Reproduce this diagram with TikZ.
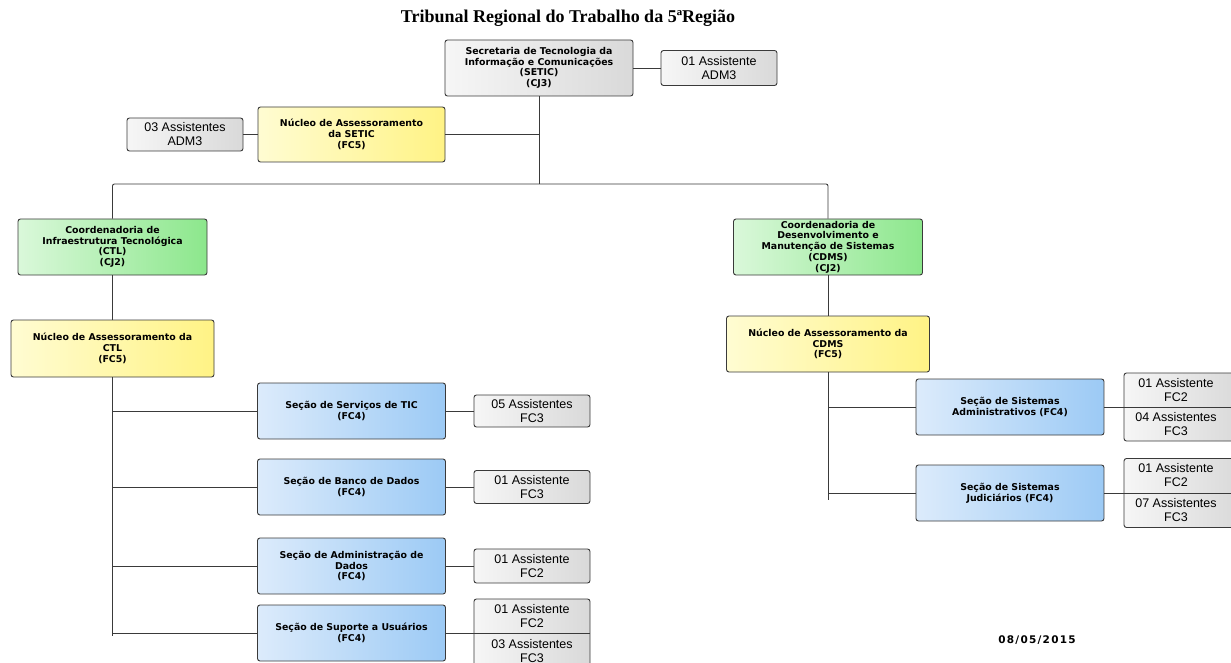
\documentclass[tikz,border=0pt]{standalone}
\usepackage{fontspec}
\setmainfont{Liberation Serif}
\newfontfamily\bxfont{DejaVu Sans}
\newfontfamily\asfont{Liberation Sans}
\newfontfamily\datefont[LetterSpace=12]{DejaVu Sans}
\definecolor{grayL}{HTML}{F6F6F6}
\definecolor{grayR}{HTML}{D9D9D9}
\definecolor{yelL}{HTML}{FFFCD2}
\definecolor{yelR}{HTML}{FFF385}
\definecolor{grnL}{HTML}{DAF8DA}
\definecolor{grnR}{HTML}{8CE78C}
\definecolor{bluL}{HTML}{DCEBFB}
\definecolor{bluR}{HTML}{9CCAF5}
\definecolor{edge}{HTML}{3A3A3A}
\tikzset{
  bx/.style={draw=edge, line width=0.9pt, rounded corners=2.5pt, align=center, inner sep=1pt,
    font=\bxfont\bfseries\fontsize{9.4}{10.7}\selectfont},
  grybox/.style={bx, left color=grayL, right color=grayR, minimum width=116pt,
    font=\asfont\fontsize{12.5}{14}\selectfont},
  yelbox/.style={bx, left color=yelL, right color=yelR},
  grnbox/.style={bx, left color=grnL, right color=grnR},
  blubox/.style={bx, left color=bluL, right color=bluR, minimum width=188pt, minimum height=56pt},
  astxt/.style={align=center, inner sep=0pt, font=\asfont\fontsize{12.5}{14}\selectfont},
  conn/.style={draw=edge, line width=0.9pt}
}
\begin{document}
\begin{tikzpicture}[x=1pt,y=-1pt]
\useasboundingbox (0,0) rectangle (1231,663);
\node[font=\bfseries\fontsize{18}{20}\selectfont] (title) at (568,18) {Tribunal Regional do Trabalho da 5ªRegião};

% top level
\node[grybox, font=\bxfont\bfseries\fontsize{9.4}{10.7}\selectfont, minimum width=188pt, minimum height=56pt] (setic) at (539,68)
  {Secretaria de Tecnologia da\\Informação e Comunicações\\(SETIC)\\(CJ3)};
\node[grybox, minimum height=35pt] (a1) at (719,68) {01 Assistente\\ADM3};
\node[yelbox, minimum width=187pt, minimum height=55pt] (nsetic) at (351.5,134.5) {Núcleo de Assessoramento\\da SETIC\\(FC5)};
\node[grybox, minimum height=33pt] (a2) at (185,134.5) {03 Assistentes\\ADM3};

\coordinate (bar) at (539,184);
\draw[conn] (setic.east) -- (a1.west);
\draw[conn] (setic.south) -- (bar);
\draw[conn] (nsetic.east) -- (nsetic.east -| bar);
\draw[conn] (a2.east) -- (nsetic.west);

% coordinations
\node[grnbox, minimum width=189pt, minimum height=56pt] (ctl) at (112.5,247) {Coordenadoria de\\Infraestrutura Tecnológica\\(CTL)\\(CJ2)};
\node[grnbox, minimum width=189pt, minimum height=56pt] (cdms) at (828,247) {Coordenadoria de\\Desenvolvimento e\\Manutenção de Sistemas\\(CDMS)\\(CJ2)};
\draw[conn, rounded corners=2pt] (ctl.north) |- (bar) -| (cdms.north);

% left branch
\node[yelbox, minimum width=203pt, minimum height=57pt] (nctl) at (112.5,348.5) {Núcleo de Assessoramento da\\CTL\\(FC5)};
\draw[conn] (ctl.south) -- (nctl.north);
\coordinate (ltrunk) at (112.5,636);
\draw[conn] (nctl.south) -- (ltrunk);

\node[blubox] (s1) at (351.5,411) {Seção de Serviços de TIC\\(FC4)};
\node[grybox, minimum height=32pt] (b1) at (532,411) {05 Assistentes\\FC3};
\node[blubox] (s2) at (351.5,487) {Seção de Banco de Dados\\(FC4)};
\node[grybox, minimum height=33pt] (b2) at (532,487) {01 Assistente\\FC3};
\node[blubox] (s3) at (351.5,566) {Seção de Administração de\\Dados\\(FC4)};
\node[grybox, minimum height=34pt] (b3) at (532,566) {01 Assistente\\FC2};
\node[blubox] (s4) at (351.5,633) {Seção de Suporte a Usuários\\(FC4)};
\node[grybox, minimum height=70pt] (b4) at (532,634) {};
\node[astxt] (b4a) at (532,616.5) {01 Assistente\\FC2};
\node[astxt] (b4b) at (532,651) {03 Assistentes\\FC3};

\foreach \s/\b in {s1/b1,s2/b2,s3/b3}{
  \draw[conn] (\s.west -| ltrunk) -- (\s.west);
  \draw[conn] (\s.east) -- (\b.west);
}
\draw[conn] (s4.west -| ltrunk) -- (s4.west);
\draw[conn] (s4.east) -- (s4.east -| b4.east);

% right branch
\node[yelbox, minimum width=203pt, minimum height=56pt] (ncdms) at (828,344) {Núcleo de Assessoramento da\\CDMS\\(FC5)};
\draw[conn] (cdms.south) -- (ncdms.north);
\coordinate (rtrunk) at (828,500);
\draw[conn] (ncdms.south) -- (rtrunk);

\node[blubox] (r1) at (1010,407) {Seção de Sistemas\\Administrativos (FC4)};
\node[grybox, minimum height=68pt] (rb1) at (1182,407) {};
\node[astxt] (rb1a) at (1176,390) {01 Assistente\\FC2};
\node[astxt] (rb1b) at (1176,424) {04 Assistentes\\FC3};
\node[blubox] (r2) at (1010,493) {Seção de Sistemas\\Judiciários (FC4)};
\node[grybox, minimum height=69pt] (rb2) at (1182,493) {};
\node[astxt] (rb2a) at (1176,475.5) {01 Assistente\\FC2};
\node[astxt] (rb2b) at (1176,510) {07 Assistentes\\FC3};

\draw[conn] (r1.west -| rtrunk) -- (r1.west);
\draw[conn] (r1.east) -- (r1.east -| rb1.east);
\draw[conn] (r2.west -| rtrunk) -- (r2.west);
\draw[conn] (r2.east) -- (r2.east -| rb2.east);

\node[font=\datefont\bfseries\fontsize{10.5}{12}\selectfont] (date) at (1037,640) {08/05/2015};
\end{tikzpicture}
\end{document}
